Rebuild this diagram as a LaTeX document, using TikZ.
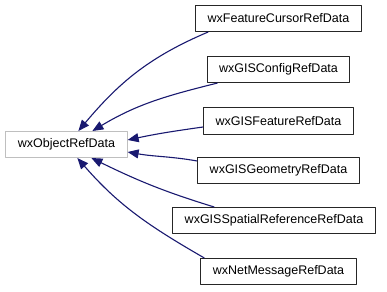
\documentclass[tikz,border=0pt]{standalone}
\usepackage{fontspec}
\setmainfont{Liberation Sans}
\usetikzlibrary{arrows.meta}
\definecolor{edgeblue}{HTML}{191970}
\begin{document}
\begin{tikzpicture}[line join=round, x=1pt, y=1pt,
	>={Triangle[length=11pt,width=9pt]},
	cls/.style={draw=black!85, line width=1pt, fill=white, inner xsep=12pt, inner ysep=0pt,
		minimum height=26pt, font=\fontsize{12.5}{15}\selectfont},
	base/.style={cls, draw=gray!50},
	inh/.style={->, draw=edgeblue, line width=1.1pt}]
	\useasboundingbox (0,0) rectangle (387,-291);
	% base class on the left
	\node[base] (obj) at (66.5,-144.5) {wxObjectRefData};
	% derived classes
	\def\cx{278.5}
	\node[cls] (cursor) at (\cx,-18.5) {wxFeatureCursorRefData};
	\node[cls] (config) at (\cx,-69.5) {wxGISConfigRefData};
	\node[cls] (feature) at (\cx,-121) {wxGISFeatureRefData};
	\node[cls] (geometry) at (\cx,-170) {wxGISGeometryRefData};
	\node[cls] (spatial) at (274,-220.5) {wxGISSpatialReferenceRefData};
	\node[cls] (net) at (\cx,-271.5) {wxNetMessageRefData};
	% inheritance edges
	\draw[inh] ([xshift=13pt]cursor.south west) to[out=203,in=50] ([xshift=73pt]obj.north west);
	\draw[inh] ([xshift=11pt]config.south west) to[out=194,in=31] ([xshift=87pt]obj.north west);
	\draw[inh] ([yshift=-6pt]feature.west) to[out=188,in=12] ([yshift=4.5pt]obj.east);
	\draw[inh] ([yshift=9pt]geometry.west) to[out=170,in=-10] ([yshift=-7.5pt]obj.east);
	\draw[inh] ([xshift=42pt]spatial.north west) to[out=163,in=-26] ([xshift=86pt]obj.south west);
	\draw[inh] ([xshift=4pt]net.north west) to[out=150,in=-49] ([xshift=72pt]obj.south west);
\end{tikzpicture}
\end{document}
